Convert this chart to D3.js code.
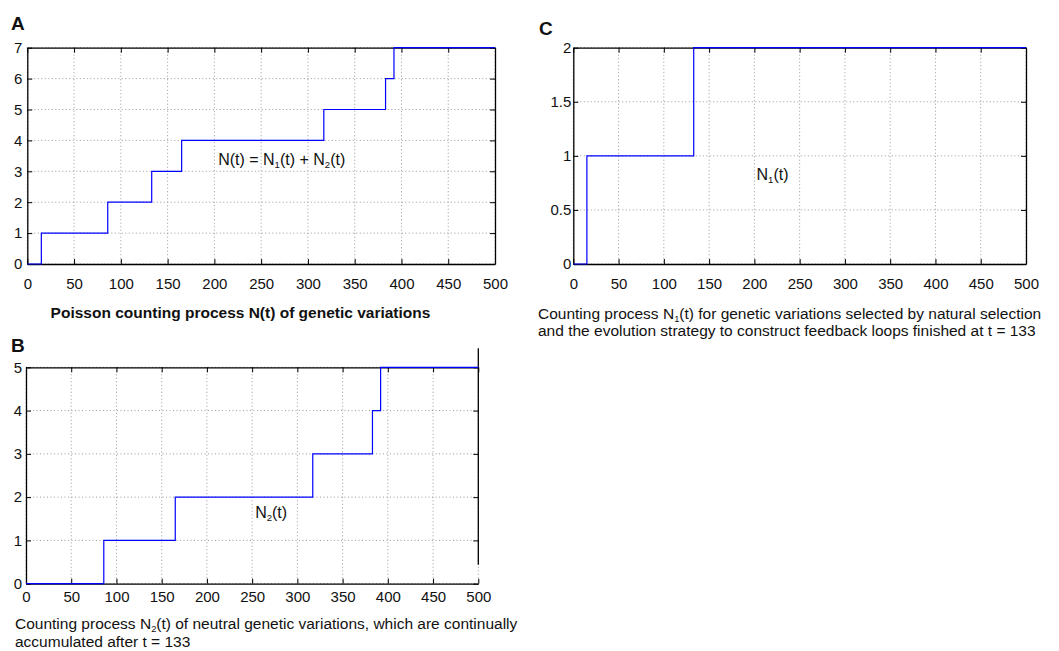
<!DOCTYPE html>
<html>
<head>
<meta charset="utf-8">
<script src="https://cdn.jsdelivr.net/npm/d3@7"></script>
<style>
  body { margin: 0; background: #fff; }
  svg { display: block; font-family: "Liberation Sans", Arial, sans-serif; }
</style>
</head>
<body>
<div id="chart"></div>
<script>
// x ticks shared by all three panels
var tTicks = [0, 50, 100, 150, 200, 250, 300, 350, 400, 450, 500];

// panel A: N(t) = N1(t) + N2(t)
var nTimes  = [0, 15, 86, 133, 165, 317, 383, 392, 500];
var nValues = [0, 1, 2, 3, 4, 5, 6, 7, 7];
var nTicks  = [0, 1, 2, 3, 4, 5, 6, 7];

// panel B: N2(t)
var n2Times  = [0, 86, 165, 317, 383, 392, 500];
var n2Values = [0, 1, 2, 3, 4, 5, 5];
var n2Ticks  = [0, 1, 2, 3, 4, 5];

// panel C: N1(t)
var n1Times  = [0, 15, 133, 500];
var n1Values = [0, 1, 2, 2];
var n1Ticks  = [0, 0.5, 1, 1.5, 2];

var svg = d3.select("#chart").append("svg")
    .attr("width", 1059)
    .attr("height", 651);

function drawPanel(p) {
  var x = d3.scaleLinear().domain([0, 500]).range([p.left, p.right]);
  var y = d3.scaleLinear().domain([0, d3.max(p.yTicks)]).range([p.bottom, p.top]);
  var g = svg.append("g");
  var fmt = function(d) { return String(d); };

  // dotted grid
  g.selectAll(".vgrid").data(tTicks).enter().append("line")
    .attr("x1", function(d) { return x(d); }).attr("x2", function(d) { return x(d); })
    .attr("y1", p.top).attr("y2", p.bottom)
    .attr("stroke", "#999").attr("stroke-width", 1)
    .attr("stroke-dasharray", "1,2.5");
  g.selectAll(".hgrid").data(p.yTicks).enter().append("line")
    .attr("y1", function(d) { return y(d); }).attr("y2", function(d) { return y(d); })
    .attr("x1", p.left).attr("x2", p.right)
    .attr("stroke", "#999").attr("stroke-width", 1)
    .attr("stroke-dasharray", "1,2.5");

  // box with inward ticks
  var bottomAx = g.append("g")
    .attr("transform", "translate(0," + p.bottom + ")")
    .call(d3.axisBottom(x).tickValues(tTicks).tickFormat(fmt)
      .tickSizeInner(-5).tickSizeOuter(0).tickPadding(p.xPad));
  var leftAx = g.append("g")
    .attr("transform", "translate(" + p.left + ",0)")
    .call(d3.axisLeft(y).tickValues(p.yTicks).tickFormat(fmt)
      .tickSizeInner(-5).tickSizeOuter(0).tickPadding(p.yPad));
  g.append("g")
    .attr("transform", "translate(0," + p.top + ")")
    .call(d3.axisTop(x).tickValues(tTicks).tickSizeInner(-5).tickSizeOuter(0).tickFormat(""));
  var rightAx = g.append("g")
    .attr("transform", "translate(" + p.right + ",0)")
    .call(d3.axisRight(y).tickValues(p.yTicks).tickSizeInner(-5).tickSizeOuter(0).tickFormat(""));

  [bottomAx, leftAx].forEach(function(a) {
    a.attr("font-size", null).attr("font-family", null);
    a.selectAll("text").attr("font-size", "15px").attr("fill", "#111");
  });
  g.selectAll(".domain").attr("stroke", "#000").attr("stroke-width", 1.3);
  g.selectAll(".tick line").attr("stroke", "#000");

  if (p.rightShift) {
    // the right border of this panel is drawn offset upward
    rightAx.select(".domain").remove();
    g.append("line")
      .attr("x1", p.right).attr("x2", p.right)
      .attr("y1", p.top - p.rightShift).attr("y2", p.bottom - p.rightShift)
      .attr("stroke", "#000").attr("stroke-width", 1.3);
  }

  // step line
  var pts = p.times.map(function(t, i) { return [t, p.values[i]]; });
  var line = d3.line()
    .x(function(d) { return x(d[0]); })
    .y(function(d) { return y(d[1]); })
    .curve(d3.curveStepAfter);
  g.append("path")
    .datum(pts)
    .attr("d", line)
    .attr("fill", "none")
    .attr("stroke", "#0000ff")
    .attr("stroke-width", 1.2);

  return { x: x, y: y, g: g };
}

// text with subscripts: parts = [[text, isSub], ...]
function richText(sel, xPos, yPos, parts, size, anchor, weight) {
  var t = sel.append("text")
    .attr("x", xPos).attr("y", yPos)
    .attr("font-size", size + "px")
    .attr("fill", "#111")
    .attr("text-anchor", anchor || "start")
    .attr("font-weight", weight || "normal");
  var shift = size * 0.2;
  var wasSub = false;
  parts.forEach(function(p) {
    var s = t.append("tspan").text(p[0]);
    if (p[1]) {
      s.attr("font-size", (size * 0.6) + "px").attr("dy", shift);
    } else if (wasSub) {
      s.attr("dy", -shift);
    }
    wasSub = p[1];
  });
  return t;
}

var A = drawPanel({ left: 27.3, right: 495, top: 47.7, bottom: 264,
  yTicks: nTicks, times: nTimes, values: nValues, xPad: 14, yPad: 5 });
var C = drawPanel({ left: 573.3, right: 1026, top: 47.7, bottom: 264,
  yTicks: n1Ticks, times: n1Times, values: n1Values, xPad: 14, yPad: 2 });
var B = drawPanel({ left: 26, right: 478.3, top: 367.3, bottom: 583.7,
  yTicks: n2Ticks, times: n2Times, values: n2Values, xPad: 8, yPad: 4, rightShift: 19 });

// panel letters
[["A", 11, 30], ["C", 539, 35], ["B", 11, 352]].forEach(function(l) {
  svg.append("text").attr("x", l[1]).attr("y", l[2])
    .attr("font-size", "19px").attr("font-weight", "bold").attr("fill", "#111")
    .text(l[0]);
});

// annotations inside the plots
richText(svg, A.x(272), A.y(3.2), [["N(t) = N", 0], ["1", 1], ["(t) + N", 0], ["2", 1], ["(t)", 0]], 16, "middle");
richText(svg, C.x(220), C.y(0.78), [["N", 0], ["1", 1], ["(t)", 0]], 16, "middle");
richText(svg, B.x(271), B.y(1.52), [["N", 0], ["2", 1], ["(t)", 0]], 16, "middle");

// captions
richText(svg, 240.5, 318, [["Poisson counting process N(t) of genetic variations", 0]], 15.5, "middle", "bold");
richText(svg, 538, 319, [["Counting process N", 0], ["1", 1], ["(t) for genetic variations selected by natural selection", 0]], 15.5);
richText(svg, 538, 336, [["and the evolution strategy to construct feedback loops finished at t = 133", 0]], 15.5);
richText(svg, 15, 629, [["Counting process N", 0], ["2", 1], ["(t) of neutral genetic variations, which are continually", 0]], 15.5);
richText(svg, 15, 647, [["accumulated after t = 133", 0]], 15.5);
</script>
</body>
</html>
